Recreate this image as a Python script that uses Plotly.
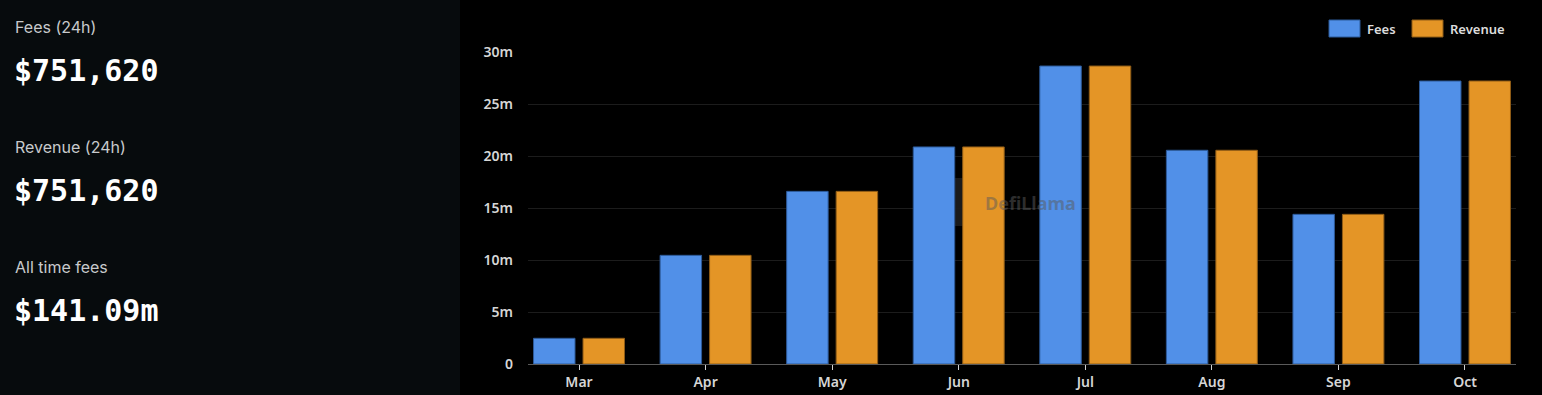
import plotly.graph_objects as go

# ---- data ----
months = ["Mar", "Apr", "May", "Jun", "Jul", "Aug", "Sep", "Oct"]
fees = [2.47e6, 10.45e6, 16.6e6, 20.87e6, 28.65e6, 20.55e6, 14.39e6, 27.21e6]
revenue = [2.47e6, 10.45e6, 16.6e6, 20.87e6, 28.65e6, 20.55e6, 14.39e6, 27.21e6]
y_tickvals = [0, 5e6, 10e6, 15e6, 20e6, 25e6, 30e6]
y_ticktext = ["0", "5m", "10m", "15m", "20m", "25m", "30m"]
stats = [("Fees (24h)", "$751,620"), ("Revenue (24h)", "$751,620"), ("All time fees", "$141.09m")]

W, H = 1542, 395
L, R, T, B = 528, 26, 52, 31
PW, PH = W - L - R, H - T - B


def px(x):
    return (x - L) / PW


def py(y):
    return (H - B - y) / PH


BLUE, BLUE_EDGE = "#5190e8", "#2d5a99"
ORANGE, ORANGE_EDGE = "#e49526", "#8f5c17"

fig = go.Figure()
fig.add_trace(go.Bar(x=months, y=fees, name="Fees", marker=dict(color=BLUE, line=dict(color=BLUE_EDGE, width=1))))
fig.add_trace(go.Bar(x=months, y=revenue, name="Revenue", marker=dict(color=ORANGE, line=dict(color=ORANGE_EDGE, width=1))))

shapes = []
annotations = []

# left dark panel
shapes.append(dict(type="rect", xref="paper", yref="paper", x0=px(0), x1=px(460), y0=py(H + 20), y1=py(-20),
                   fillcolor="#070b0d", line=dict(width=0), layer="below"))

# stats text
ys = [(27, 70), (147, 190), (267, 310)]
for (lab, val), (yl, yv) in zip(stats, ys):
    annotations.append(dict(text=lab, xref="paper", yref="paper", x=px(13), y=py(yl), xanchor="left", yanchor="middle",
                            showarrow=False, font=dict(family="Inter, Noto Sans, sans-serif", size=16, color="#c8cacc")))
    annotations.append(dict(text="<b>%s</b>" % val, xref="paper", yref="paper", x=px(12), y=py(yv), xanchor="left",
                            yanchor="middle", showarrow=False,
                            font=dict(family="DejaVu Sans Mono, monospace", size=30, color="#ffffff")))

# custom legend
for (sx0, sx1, tx, name, col, edge) in [(1329, 1360, 1365, "Fees", BLUE, BLUE_EDGE),
                                        (1412, 1443, 1448, "Revenue", ORANGE, ORANGE_EDGE)]:
    shapes.append(dict(type="rect", xref="paper", yref="paper",
                       x0=px(sx0), x1=px(sx1), y0=py(37), y1=py(20),
                       fillcolor=col, line=dict(color=edge, width=1)))
    annotations.append(dict(text=name, xref="paper", yref="paper", x=px(tx), y=py(28.5), xanchor="left",
                            yanchor="middle", showarrow=False,
                            font=dict(family="Noto Sans, sans-serif", size=13, color="#dcdcdc", weight=600)))

# faint watermark
shapes.append(dict(type="rect", xref="paper", yref="paper", x0=px(953), x1=px(975), y0=py(226), y1=py(178),
                   fillcolor="rgba(90,90,90,0.3)", line=dict(width=0), layer="below"))
annotations.append(dict(text="<b>DefiLlama</b>", xref="paper", yref="paper", x=px(983), y=py(203), xanchor="left",
                        yanchor="middle", showarrow=False,
                        font=dict(family="Noto Sans, sans-serif", size=18, color="rgba(90,90,90,0.5)")))

fig.update_layout(
    width=W, height=H + 8, autosize=False,
    margin=dict(l=L, r=R, t=T, b=B + 8, pad=0),
    paper_bgcolor="#000000", plot_bgcolor="#000000",
    barmode="group", bargap=0.218, bargroupgap=0.162,
    showlegend=False,
    shapes=shapes, annotations=annotations,
    xaxis=dict(range=[-0.403, 7.403], showgrid=False, showline=True, linecolor="#5a5a5a", linewidth=1,
               ticks="outside", ticklen=5, tickcolor="#d0d0d0", tickwidth=1,
               tickfont=dict(family="Noto Sans, sans-serif", size=14, color="#d6d6d6", weight=600), zeroline=False),
    yaxis=dict(range=[0, 30e6], tickvals=y_tickvals, ticktext=y_ticktext, showgrid=True, gridcolor="#1c1c1c",
               gridwidth=1, zeroline=False, showline=False, ticks="", ticklabelstandoff=14,
               tickfont=dict(family="Noto Sans, sans-serif", size=14, color="#d6d6d6", weight=600)),
)

fig.write_html("out.html", config={"responsive": False, "displayModeBar": False},
               post_script="document.body.style.margin='0';document.body.style.background='#000';")
